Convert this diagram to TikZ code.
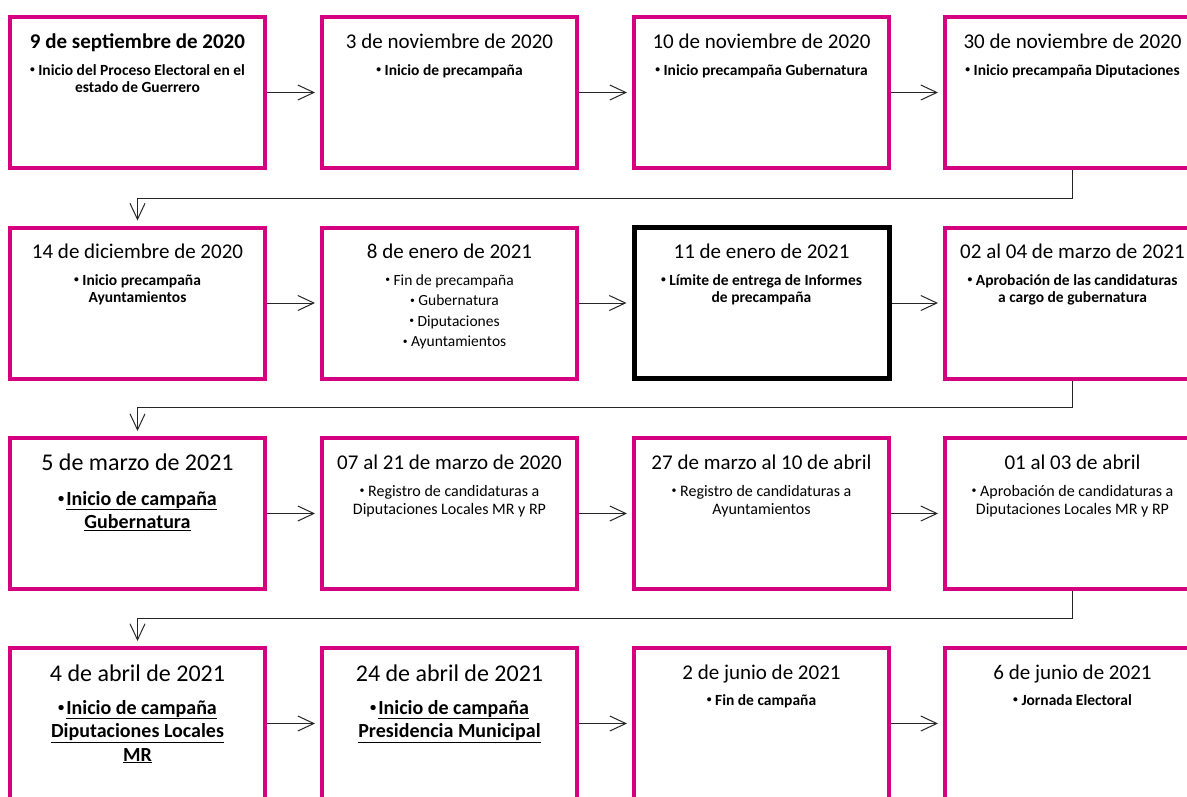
\documentclass[tikz,border=0pt]{standalone}
\usepackage{fontspec}
\setmainfont{Carlito}
\usetikzlibrary{arrows.meta,calc}
\definecolor{mag}{RGB}{213,0,127}
\newcommand\ml[1]{\vtop{\halign{\hfil##\hfil\cr#1\crcr}}}
\newcommand\bul{\raisebox{0.13em}{\scalebox{0.62}{•}}}
\begin{document}
\begin{tikzpicture}[x=1pt,y=-1pt,
 pbox/.style={draw=mag, line width=4pt, minimum width=255pt, minimum height=151pt, inner sep=0pt, fill=white},
 kbox/.style={pbox, draw=black, line width=5pt},
 ttl/.style={anchor=base, inner sep=0pt, font=\fontsize{21}{25}\selectfont},
 bttl/.style={anchor=base, inner sep=0pt, font=\fontsize{24}{28}\selectfont},
 bl/.style={anchor=base, inner sep=0pt, font=\bfseries\fontsize{15.5}{17.5}\selectfont},
 bls/.style={anchor=base, inner sep=0pt, font=\fontsize{15.5}{20.5}\selectfont},
 rl/.style={anchor=base, inner sep=0pt, font=\fontsize{16}{18.5}\selectfont},
 ul/.style={anchor=base, inner sep=0pt, font=\bfseries\fontsize{20}{23.5}\selectfont},
 conn/.style={draw=black!85, line width=1pt, -{Straight Barb[length=16pt,width=15pt]}, shorten >=5pt},
]
\useasboundingbox[fill=white] (0,0) rectangle (1187,796);
% boxes
\node[pbox] (b1) at (137.5,92.5) {};
\node[pbox] (b2) at (449.5,92.5) {};
\node[pbox] (b3) at (761.5,92.5) {};
\node[pbox] (b4) at (1072.5,92.5) {};
\node[pbox] (b5) at (137.5,303) {};
\node[pbox] (b6) at (449.5,303) {};
\node[kbox] (b7) at (761.5,303) {};
\node[pbox] (b8) at (1072.5,303) {};
\node[pbox] (b9) at (137.5,513.5) {};
\node[pbox] (b10) at (449.5,513.5) {};
\node[pbox] (b11) at (761.5,513.5) {};
\node[pbox] (b12) at (1072.5,513.5) {};
\node[pbox] (b13) at (137.5,723.5) {};
\node[pbox] (b14) at (449.5,723.5) {};
\node[pbox] (b15) at (761.5,723.5) {};
\node[pbox] (b16) at (1072.5,723.5) {};
% row 1 texts
\node[ttl] (t1) at (137.5,48) {\textbf{9 de septiembre de 2020}};
\node[bl] (l1) at (137.5,75) {\ml{\bul{} Inicio del Proceso Electoral en el\cr estado de Guerrero}};
\node[ttl] (t2) at (449.5,48) {3 de noviembre de 2020};
\node[bl] (l2) at (449.5,75) {\ml{\bul{} Inicio de precampaña}};
\node[ttl] (t3) at (761.5,48) {10 de noviembre de 2020};
\node[bl] (l3) at (761.5,75) {\ml{\bul{} Inicio precampaña Gubernatura}};
\node[ttl] (t4) at (1072.5,48) {30 de noviembre de 2020};
\node[bl] (l4) at (1072.5,75) {\ml{\bul{} Inicio precampaña Diputaciones}};
% row 2 texts
\node[ttl] (t5) at (137.5,258) {14 de diciembre de 2020};
\node[bl] (l5) at (137.5,285) {\ml{\bul{} Inicio precampaña\cr Ayuntamientos}};
\node[ttl] (t6) at (449.5,258) {8 de enero de 2021};
\node[bls] (l6) at (449.5,285) {\ml{\bul{} Fin de precampaña\cr \hspace*{10pt}\bul{} Gubernatura\cr \hspace*{10pt}\bul{} Diputaciones\cr \hspace*{10pt}\bul{} Ayuntamientos}};
\node[ttl] (t7) at (761.5,258) {11 de enero de 2021};
\node[bl] (l7) at (761.5,285) {\ml{\bul{} Límite de entrega de Informes\cr de precampaña}};
\node[ttl] (t8) at (1072.5,258) {02 al 04 de marzo de 2021};
\node[bl] (l8) at (1072.5,285) {\ml{\bul{} Aprobación de las candidaturas\cr a cargo de gubernatura}};
% row 3 texts
\node[bttl] (t9) at (137.5,470) {5 de marzo de 2021};
\node[ul] (l9) at (137.5,505) {\ml{\bul\kern2pt\underline{Inicio de campaña}\cr \underline{Gubernatura}}};
\node[ttl] (t10) at (449.5,469.5) {07 al 21 de marzo de 2020};
\node[rl] (l10) at (449.5,496) {\ml{\bul{} Registro de candidaturas a\cr Diputaciones Locales MR y RP}};
\node[ttl] (t11) at (761.5,469.5) {27 de marzo al 10 de abril};
\node[rl] (l11) at (761.5,496) {\ml{\bul{} Registro de candidaturas a\cr Ayuntamientos}};
\node[ttl] (t12) at (1072.5,469.5) {01 al 03 de abril};
\node[rl] (l12) at (1072.5,496) {\ml{\bul{} Aprobación de candidaturas a\cr Diputaciones Locales MR y RP}};
% row 4 texts
\node[bttl] (t13) at (137.5,681) {4 de abril de 2021};
\node[ul] (l13) at (137.5,714) {\ml{\bul\kern2pt\underline{Inicio de campaña}\cr \underline{Diputaciones Locales}\cr \underline{MR}}};
\node[bttl] (t14) at (449.5,681) {24 de abril de 2021};
\node[ul] (l14) at (449.5,714) {\ml{\bul\kern2pt\underline{Inicio de campaña}\cr \underline{Presidencia Municipal}}};
\node[ttl] (t15) at (761.5,679.5) {2 de junio de 2021};
\node[bl] (l15) at (761.5,705) {\ml{\bul{} Fin de campaña}};
\node[ttl] (t16) at (1072.5,679.5) {6 de junio de 2021};
\node[bl] (l16) at (1072.5,705) {\ml{\bul{} Jornada Electoral}};
% connectors
\draw[conn] (b1.east) -- (b2.west);
\draw[conn] (b2.east) -- (b3.west);
\draw[conn] (b3.east) -- (b4.west);
\draw[conn] (b4.south) -- ++(0,28) -| (b5.north);
\draw[conn] (b5.east) -- (b6.west);
\draw[conn] (b6.east) -- (b7.west);
\draw[conn] (b7.east) -- (b8.west);
\draw[conn] (b8.south) -- ++(0,27) -| (b9.north);
\draw[conn] (b9.east) -- (b10.west);
\draw[conn] (b10.east) -- (b11.west);
\draw[conn] (b11.east) -- (b12.west);
\draw[conn] (b12.south) -- ++(0,27) -| (b13.north);
\draw[conn] (b13.east) -- (b14.west);
\draw[conn] (b14.east) -- (b15.west);
\draw[conn] (b15.east) -- (b16.west);
\end{tikzpicture}
\end{document}
